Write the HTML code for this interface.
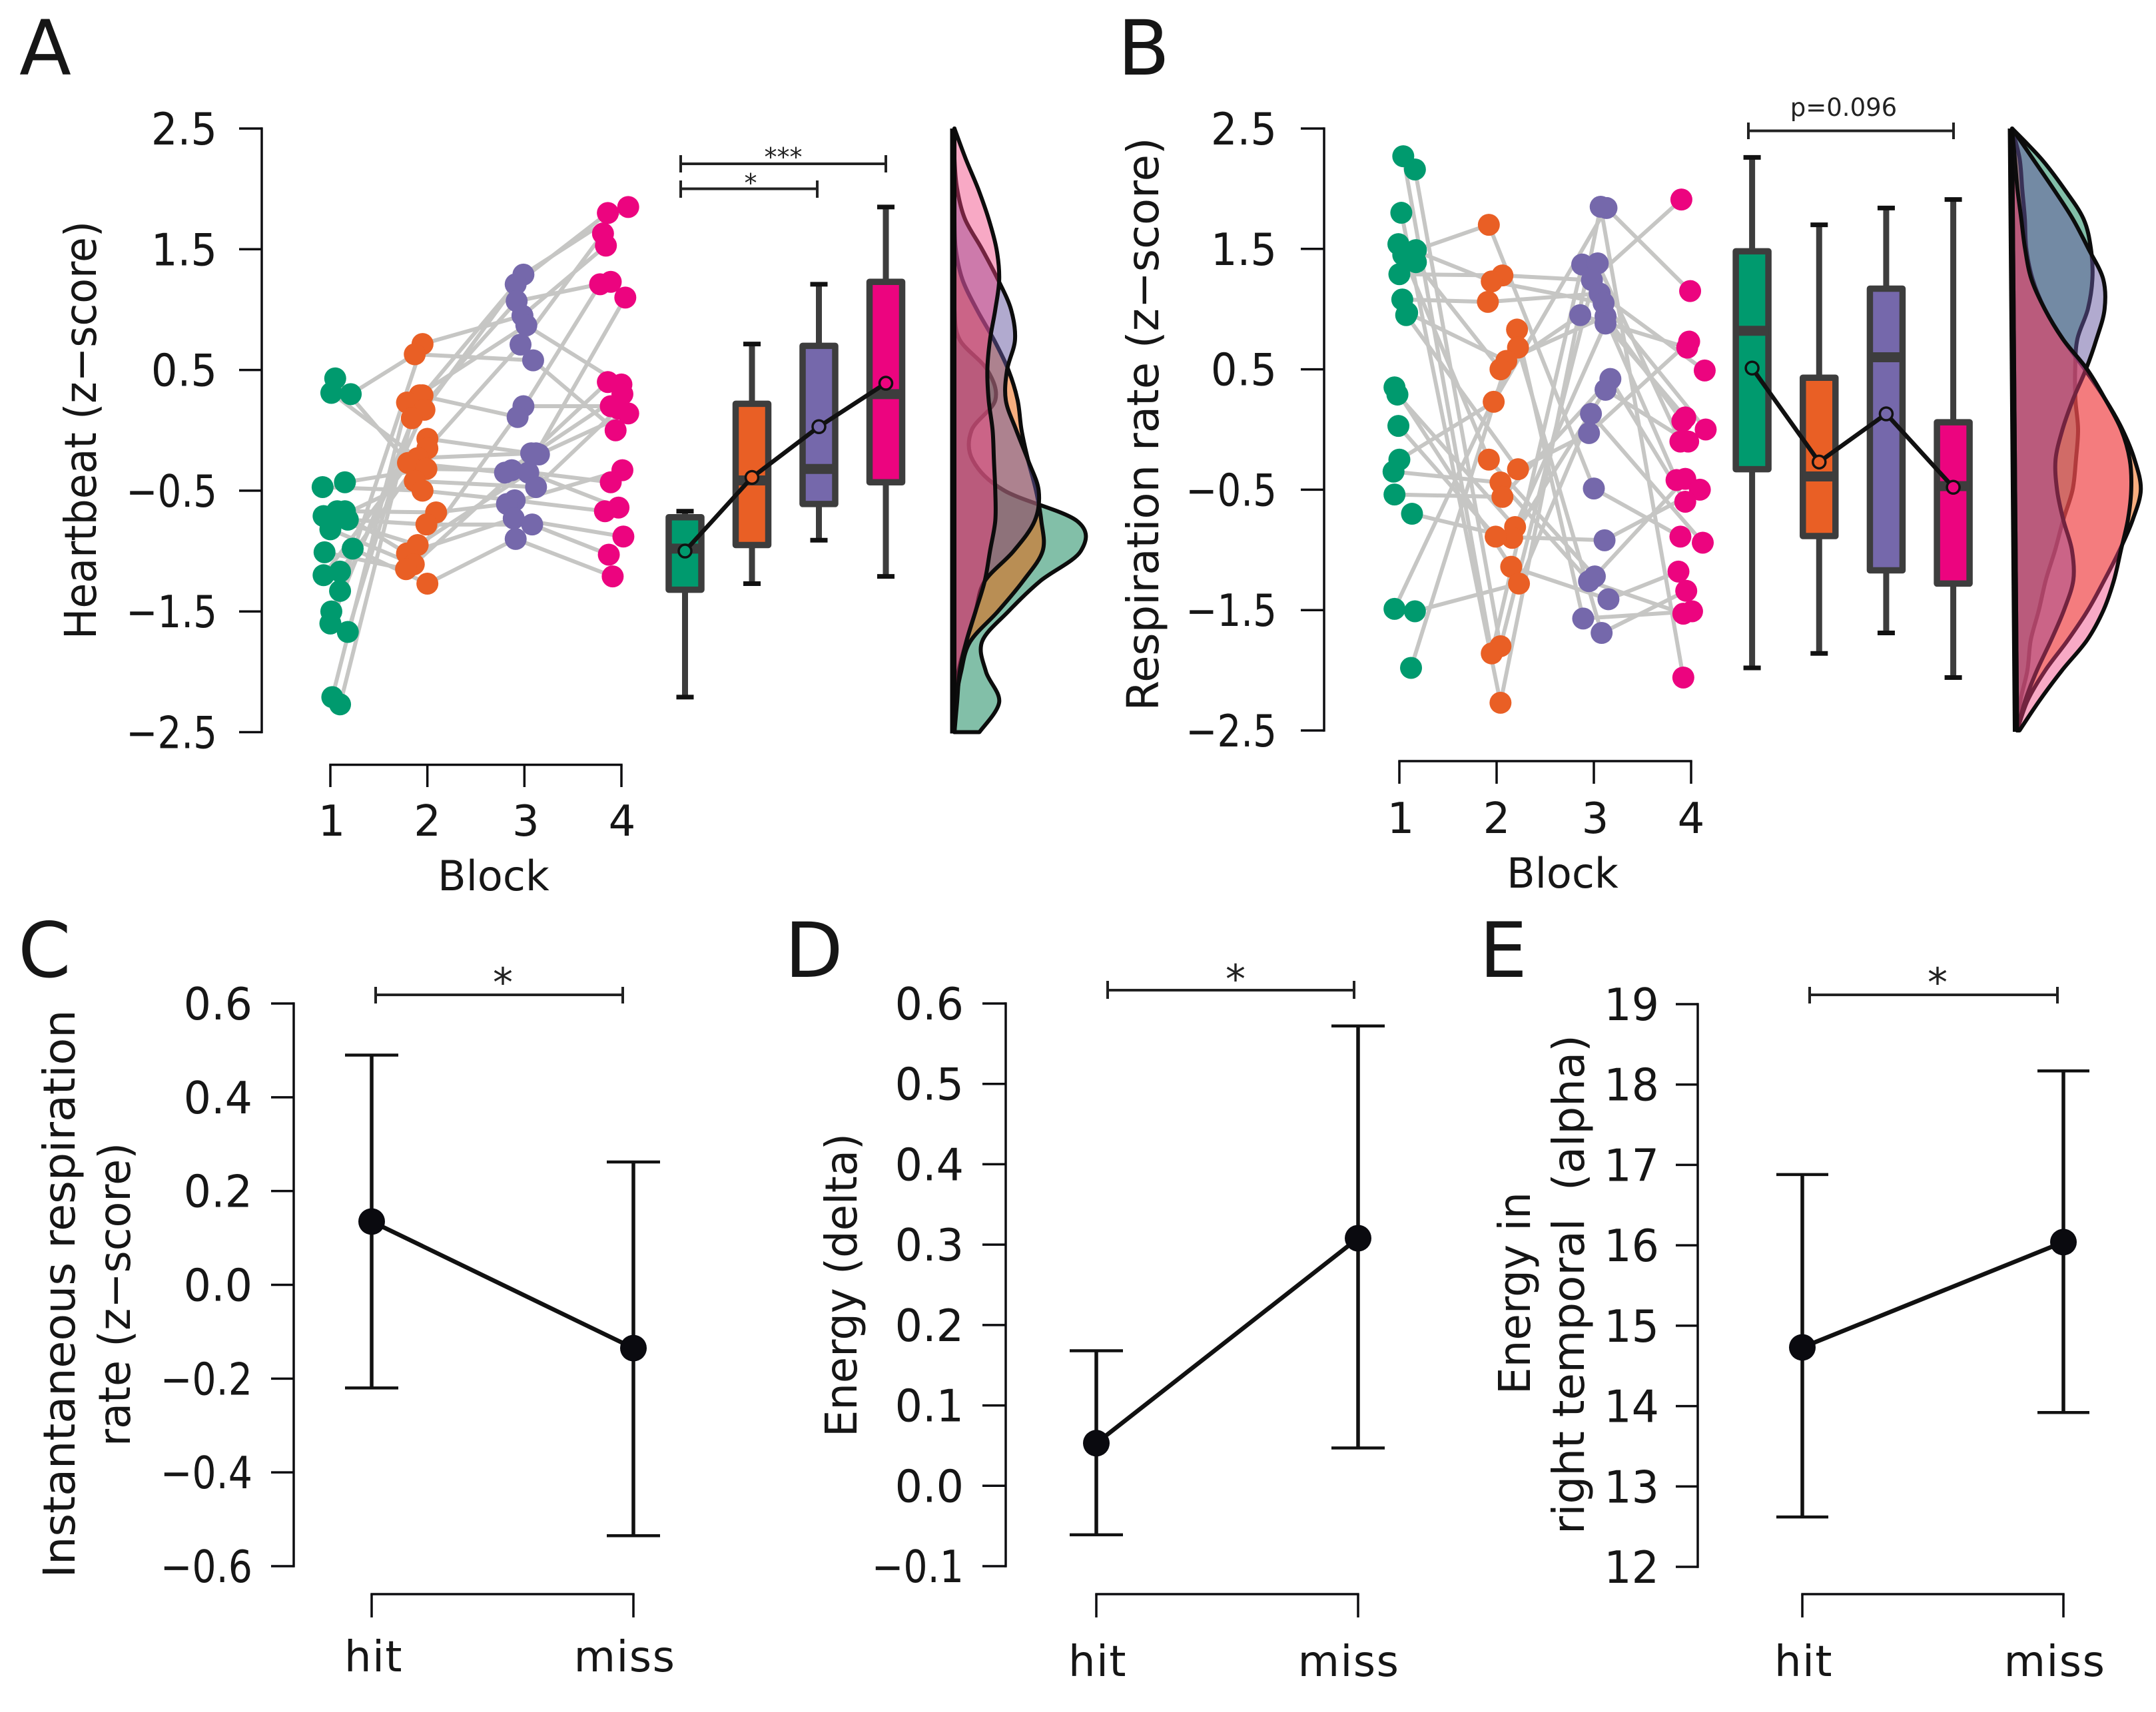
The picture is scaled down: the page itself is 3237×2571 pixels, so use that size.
<!DOCTYPE html>
<html lang="en">
<head>
<meta charset="utf-8">
<title>Heartbeat, respiration and energy by block and hit/miss</title>
<style>
html,body{margin:0;padding:0;background:#fff;}
svg{display:block;}
text{font-family:"DejaVu Sans","Liberation Sans",sans-serif;fill:#161616;}
.panel-letter{font-size:114px;}
.axis-title{font-size:66px;}
.block-title{font-size:62px;}
.star{font-size:38px;fill:#222;}
.bracket{fill:none;stroke:#222;stroke-width:4;}
</style>
</head>
<body>
<svg id="chart" xmlns="http://www.w3.org/2000/svg" width="3237" height="2571" viewBox="0 0 3237 2571">
  <rect x="0" y="0" width="3237" height="2571" fill="#ffffff"/>

  <text class="panel-letter" x="29" y="112">A</text>
  <text class="panel-letter" x="1678" y="112">B</text>
  <text class="panel-letter" x="27" y="1467">C</text>
  <text class="panel-letter" x="1178" y="1467">D</text>
  <text class="panel-letter" x="2221" y="1467">E</text>

  <text class="axis-title" transform="rotate(-90 144 646)" x="144" y="646" text-anchor="middle" textLength="628" lengthAdjust="spacingAndGlyphs">Heartbeat (z−score)</text>
  <text class="axis-title" transform="rotate(-90 1739 637)" x="1739" y="637" text-anchor="middle" textLength="861" lengthAdjust="spacingAndGlyphs">Respiration rate (z−score)</text>
  <text class="block-title" x="741" y="1337" text-anchor="middle">Block</text>
  <text class="block-title" x="2346" y="1333" text-anchor="middle">Block</text>

  <text class="axis-title" transform="rotate(-90 112 1943)" x="112" y="1943" text-anchor="middle" textLength="853" lengthAdjust="spacingAndGlyphs">Instantaneous respiration</text>
  <text class="axis-title" transform="rotate(-90 195 1944)" x="195" y="1944" text-anchor="middle" textLength="456" lengthAdjust="spacingAndGlyphs">rate (z−score)</text>
  <text class="axis-title" transform="rotate(-90 1286 1930)" x="1286" y="1930" text-anchor="middle" textLength="456" lengthAdjust="spacingAndGlyphs">Energy (delta)</text>
  <text class="axis-title" transform="rotate(-90 2297 1942)" x="2297" y="1942" text-anchor="middle" textLength="304" lengthAdjust="spacingAndGlyphs">Energy in</text>
  <text class="axis-title" transform="rotate(-90 2378 1929)" x="2378" y="1929" text-anchor="middle" textLength="750" lengthAdjust="spacingAndGlyphs" xml:space="preserve">right temporal  (alpha)</text>

  <path class="bracket" d="M1022 233V259M1022 246H1330M1330 233V259"/>
  <text class="star" x="1176" y="249" text-anchor="middle">***</text>
  <path class="bracket" d="M1022 271V297M1022 283.500H1227M1227 271V297"/>
  <text class="star" x="1127" y="288" text-anchor="middle">*</text>
  <path class="bracket" d="M2625 184V209M2625 196.500H2933M2933 184V209"/>
  <text x="2768" y="174" text-anchor="middle" font-size="37" style="fill:#222">p=0.096</text>

  <path class="bracket" d="M564 1482V1507M564 1494H935M935 1482V1507"/>
  <text class="star" x="755" y="1496" text-anchor="middle" style="font-size:60px">*</text>
  <path class="bracket" d="M1663 1473V1500M1663 1487H2033M2033 1473V1500"/>
  <text class="star" x="1855" y="1491" text-anchor="middle" style="font-size:60px">*</text>
  <path class="bracket" d="M2717 1482V1507M2717 1494H3089M3089 1482V1507"/>
  <text class="star" x="2909" y="1496" text-anchor="middle" style="font-size:60px">*</text>
</svg>

<script>
/* ---------- chart data ---------- */
const blockLabels = ['1','2','3','4'];
const zTicks = [2.5,1.5,0.5,-0.5,-1.5,-2.5];
const zTickLabels = ['2.5','1.5','0.5','−0.5','−1.5','−2.5'];

/* Panel A: heartbeat per block (z-score) and horizontal jitter in block units */
const hrBlock1 = [.43,.31,.30,-.47,-.43,-.71,-.67,-.67,-.74,-.73,-.82,-1.01,-.98,-1.20,-1.17,-1.33,-1.50,-1.60,-1.67,-2.21,-2.27];
const hrJitter1 = [.05,.01,.21,-.08,.15,-.07,.15,.07,.18,.05,0,-.06,.23,-.07,.10,.10,.01,0,.18,.02,.10];
const hrBlock2 = [.715,.63,.29,.29,.23,.17,.10,-.07,-.15,-.23,-.27,-.32,-.42,-.50,-.68,-.78,-.95,-1.02,-1.11,-1.15,-1.27];
const hrJitter2 = [-.05,-.13,-.05,-.08,-.21,-.03,-.16,0,0,-.10,-.20,-.01,-.13,-.05,.09,-.01,-.10,-.21,-.14,-.22,0];
const hrBlock3 = [1.29,1.21,1.07,.95,.87,.71,.58,.20,.11,-.19,-.20,-.19,-.33,-.35,-.35,-.47,-.58,-.61,-.73,-.78,-.90];
const hrJitter3 = [-.01,-.09,-.08,-.02,.02,-.04,.09,-.01,-.07,.12,.15,.07,-.13,-.20,.04,.12,-.10,-.18,-.11,.08,-.09];
const hrBlock4 = [1.80,1.85,1.63,1.53,1.21,1.23,1.10,.40,.38,.30,.20,.18,.14,0,-.33,-.43,-.64,-.67,-.88,-1.03,-1.21];
const hrJitter4 = [-.14,.07,-.19,-.16,-.22,-.11,.04,-.14,0,.01,-.11,-.03,.07,-.06,.01,-.11,-.03,-.17,.02,-.13,-.09];
/* each row: which point in blocks 1..4 belongs to one participant */
const hrSubjects = [[2,1,6,13],[1,9,11,7],[0,10,13,9],[4,11,12,15],[3,13,16,17],[5,16,14,16],[6,14,17,14],[7,17,18,18],[8,15,19,19],[9,12,15,11],[10,18,9,6],[11,19,7,10],[12,20,20,20],[13,7,10,12],[14,8,5,2],[15,0,3,3],[16,5,0,1],[17,2,1,0],[18,3,8,4],[19,4,4,8],[20,6,2,5]];

const hrWhiskerHigh = [-.67,.715,1.21,1.85];
const hrQ3 = [-.72,.22,.70,1.23];
const hrMedian = [-.98,-.415,-.32,.30];
const hrQ1 = [-1.32,-.95,-.61,-.43];
const hrWhiskerLow = [-2.21,-1.27,-.91,-1.21];
const hrMean = [-1.0,-.39,.03,.39];

const densityLevels = [2.5,2.25,2,1.75,1.5,1.25,1,.75,.5,.25,0,-.25,-.5,-.75,-1,-1.25,-1.5,-1.75,-2,-2.25,-2.5];
const hrDensity1 = [0,0,0,0,0,0,0,.04,.25,.31,.13,.14,.38,.93,.96,.65,.41,.21,.24,.34,.19];
const hrDensity2 = [0,0,0,0,.01,.06,.17,.30,.41,.48,.51,.56,.62,.66,.67,.52,.33,.12,.05,.01,0];
const hrDensity3 = [0,0,.02,.08,.21,.33,.43,.46,.40,.39,.47,.56,.64,.61,.45,.23,.16,.09,.03,.01,0];
const hrDensity4 = [0,.085,.18,.26,.32,.34,.31,.27,.25,.26,.29,.30,.31,.31,.27,.23,.16,.09,.04,.02,0];

/* Panel B: respiration per block */
const rrBlock1 = [2.27,2.16,1.80,1.54,1.49,1.45,1.39,1.29,1.08,.97,.95,.35,.29,.03,-.25,-.35,-.54,-.70,-1.49,-1.51,-1.98];
const rrJitter1 = [.04,.16,.02,-.01,.17,.04,.17,0,.03,.08,.07,-.05,-.02,-.01,0,-.06,-.05,.13,-.05,.16,.12];
const rrBlock2 = [1.70,1.28,1.23,1.06,.83,.68,.57,.50,.23,-.25,-.33,-.44,-.56,-.81,-.90,-.89,-1.14,-1.28,-1.80,-1.86,-2.27];
const rrJitter2 = [-.08,.06,-.05,-.09,.21,.22,.10,.04,-.03,-.08,.22,.04,.06,.19,.16,-.01,.15,.23,.04,-.05,.04];
const rrBlock3 = [1.85,1.84,1.37,1.38,1.24,1.13,1.05,.95,.94,.88,.42,.33,.13,-.03,-.49,-.92,-1.22,-1.26,-1.41,-1.57,-1.69];
const rrJitter3 = [.07,.13,-.12,.04,-.02,.06,.10,-.14,.12,.12,.17,.12,-.03,-.05,0,.11,.01,-.05,.15,-.11,.08];
const rrBlock4 = [1.91,1.15,.73,.68,.49,.10,.07,0,-.10,-.10,-.42,-.41,-.50,-.60,-.89,-.94,-1.18,-1.34,-1.51,-1.53,-2.06];
const rrJitter4 = [-.10,-.01,-.02,-.04,.14,-.06,-.09,.15,-.03,-.11,-.15,-.06,.09,-.06,-.11,.12,-.13,-.05,.01,-.08,-.08];
const rrSubjects = [[0,19,2,10],[1,18,3,9],[2,20,0,20],[4,0,14,14],[3,2,6,7],[5,9,16,11],[6,7,7,3],[7,1,4,0],[8,3,5,4],[9,6,8,6],[11,16,18,16],[12,13,9,5],[13,15,15,12],[14,8,1,1],[15,11,17,19],[16,12,10,13],[17,14,11,8],[18,5,20,17],[19,17,12,15],[20,4,19,18],[10,10,13,2]];

const rrWhiskerHigh = [2.26,1.70,1.84,1.91];
const rrQ3 = [1.48,.43,1.17,.06];
const rrMedian = [.82,-.39,.60,-.47];
const rrQ1 = [-.33,-.885,-1.17,-1.28];
const rrWhiskerLow = [-1.98,-1.86,-1.69,-2.06];
const rrMean = [.51,-.27,.13,-.48];

const rrDensity1 = [0,.24,.43,.59,.65,.66,.62,.53,.51,.51,.53,.51,.48,.40,.33,.25,.19,.12,.09,.03,0];
const rrDensity2 = [0,.06,.08,.10,.11,.16,.26,.41,.59,.76,.90,1.0,1.05,.98,.87,.74,.60,.43,.24,.09,0];
const rrDensity3 = [0,.17,.34,.50,.63,.75,.76,.69,.60,.49,.40,.34,.35,.40,.47,.48,.40,.29,.17,.07,0];
const rrDensity4 = [0,.02,.04,.07,.10,.15,.26,.41,.61,.76,.89,.96,.97,.94,.88,.82,.73,.59,.38,.19,.02];

/* Panels C, D, E: hit vs miss */
const conditionLabels = ['hit','miss'];
const cTicks = [.6,.4,.2,0,-.2,-.4,-.6];
const cTickLabels = ['0.6','0.4','0.2','0.0','−0.2','−0.4','−0.6'];
const cMean = [.135,-.135];
const cUpper = [.49,.262];
const cLower = [-.22,-.535];
const dTicks = [.6,.5,.4,.3,.2,.1,0,-.1];
const dTickLabels = ['0.6','0.5','0.4','0.3','0.2','0.1','0.0','−0.1'];
const dMean = [.053,.308];
const dUpper = [.168,.572];
const dLower = [-.061,.047];
const eTicks = [19,18,17,16,15,14,13,12];
const eTickLabels = ['19','18','17','16','15','14','13','12'];
const eMean = [14.73,16.04];
const eUpper = [16.88,18.17];
const eLower = [12.62,13.92];

const blockColors = ['#009A6E','#E95F25','#7568AB','#EC047F'];
const blockNames = ['block-1','block-2','block-3','block-4'];

/* ---------- helpers ---------- */
const NS = 'http://www.w3.org/2000/svg';
const root = document.getElementById('chart');
function linear(d0,d1,r0,r1){ return function(v){ return r0+(v-d0)*(r1-r0)/(d1-d0); }; }
function make(tag,parent,name){
  const n = document.createElementNS(NS,tag);
  
  
  parent.appendChild(n);
  return n;
}
function style(n,o){ for(const k in o){ n.setAttribute(k,o[k]); } return n; }
function group(name){ return make('g',root,name); }
const AX = '#0d0d10';

function yAxis(g,scale,ticks,labels,axisX,tickX,labelX,fontSize,dy,squeezePos,squeezeNeg){
  const top = scale(ticks[0]), bottom = scale(ticks[ticks.length-1]);
  style(make('line',g,'y-axis-line'),{x1:axisX,x2:axisX,y1:top-1.7,y2:bottom+1.7,stroke:AX,'stroke-width':3.5});
  ticks.forEach(function(t,i){
    style(make('line',g,'y-axis-tick'),{x1:tickX,x2:axisX,y1:scale(t),y2:scale(t),stroke:AX,'stroke-width':3.5});
    const tx = style(make('text',g,'y-tick-label'),{x:labelX,y:scale(t)+dy,'text-anchor':'end','font-size':fontSize});
    tx.textContent = labels[i];
    const squeeze = labels[i].charAt(0)==='−' ? squeezeNeg : squeezePos;
    tx.setAttribute('textLength', (tx.getComputedTextLength()*squeeze).toFixed(1));
    tx.setAttribute('lengthAdjust','spacingAndGlyphs');
  });
}
function xAxis(g,scale,cats,axisY,tickEnd,labelY,fontSize,labelShift,spacing){
  const a = scale(0), b = scale(cats.length-1);
  style(make('line',g,'x-axis-line'),{x1:a-1.7,x2:b+1.7,y1:axisY,y2:axisY,stroke:AX,'stroke-width':3.5});
  cats.forEach(function(c,i){
    style(make('line',g,'x-axis-tick'),{x1:scale(i),x2:scale(i),y1:axisY,y2:tickEnd,stroke:AX,'stroke-width':3.5});
    const tx = style(make('text',g,'x-tick-label'),{x:scale(i)+labelShift[i],y:labelY,'text-anchor':'middle','font-size':fontSize,'letter-spacing':spacing});
    tx.textContent = c;
  });
}
function spline(pts){
  let d = 'M'+pts[0][0].toFixed(1)+' '+pts[0][1].toFixed(1);
  for(let i=0;i<pts.length-1;i++){
    const p0=pts[Math.max(i-1,0)],p1=pts[i],p2=pts[i+1],p3=pts[Math.min(i+2,pts.length-1)];
    const c1=[p1[0]+(p2[0]-p0[0])/6,p1[1]+(p2[1]-p0[1])/6];
    const c2=[p2[0]-(p3[0]-p1[0])/6,p2[1]-(p3[1]-p1[1])/6];
    d+='C'+c1[0].toFixed(1)+' '+c1[1].toFixed(1)+' '+c2[0].toFixed(1)+' '+c2[1].toFixed(1)+' '+p2[0].toFixed(1)+' '+p2[1].toFixed(1);
  }
  return d;
}
function strip(g,x,y,values,jitters,subjects){
  const lines = make('g',g,'participant-lines');
  subjects.forEach(function(row){
    const pts = row.map(function(idx,b){ return (x(b+jitters[b][idx])).toFixed(1)+','+y(values[b][idx]).toFixed(1); });
    style(make('polyline',lines,'participant-line'),{points:pts.join(' '),fill:'none',stroke:'#C6C6C4','stroke-width':6,'stroke-linejoin':'round'});
  });
  values.forEach(function(vals,b){
    const dots = make('g',g,blockNames[b]+'-points');
    vals.forEach(function(v,i){
      style(make('circle',dots,blockNames[b]+'-point'),{cx:x(b+jitters[b][i]),cy:y(v),r:16.5,fill:blockColors[b]});
    });
  });
}
function boxes(g,x,y,hi,q3,med,q1,lo,mean){
  const half = 24.500, cap = 13;
  hi.forEach(function(_,i){
    const c = x(i), b = make('g',g,'box-'+blockNames[i]);
    style(make('line',b,'whisker'),{x1:c,x2:c,y1:y(hi[i]),y2:y(lo[i]),stroke:'#3D3D3D','stroke-width':9});
    style(make('line',b,'whisker-cap-upper'),{x1:c-cap,x2:c+cap,y1:y(hi[i]),y2:y(hi[i]),stroke:'#111','stroke-width':7});
    style(make('line',b,'whisker-cap-lower'),{x1:c-cap,x2:c+cap,y1:y(lo[i]),y2:y(lo[i]),stroke:'#111','stroke-width':7});
    style(make('rect',b,'box-body'),{x:c-half,width:half*2,y:y(q3[i]),height:y(q1[i])-y(q3[i]),fill:blockColors[i],stroke:'#3D3D3D','stroke-width':9.5,'stroke-linejoin':'round'});
    style(make('line',b,'box-median'),{x1:c-half,x2:c+half,y1:y(med[i]),y2:y(med[i]),stroke:'#3D3D3D','stroke-width':15});
  });
  const pts = mean.map(function(m,i){ return x(i)+','+y(m).toFixed(1); }).join(' ');
  style(make('polyline',g,'mean-line'),{points:pts,fill:'none',stroke:'#111','stroke-width':6.5});
  mean.forEach(function(m,i){
    style(make('circle',g,'mean-marker-'+blockNames[i]),{cx:x(i),cy:y(m),r:9.5,fill:blockColors[i],stroke:'#111','stroke-width':3.5});
  });
}
function violins(g,y,x0Top,x0Bottom,unit,series,fills,alphas){
  const top = y(densityLevels[0]), bottom = y(densityLevels[densityLevels.length-1]);
  function base(py){ return x0Top+(py-top)*(x0Bottom-x0Top)/(bottom-top); }
  series.forEach(function(dens,b){
    const pts = dens.map(function(d,i){ const py=y(densityLevels[i]); return [base(py)+d*unit,py]; });
    const dPath = spline(pts)+'L'+base(bottom).toFixed(1)+' '+bottom.toFixed(1)+'L'+base(top).toFixed(1)+' '+top.toFixed(1)+'Z';
    style(make('path',g,'density-'+blockNames[b]),{d:dPath,fill:fills[b],'fill-opacity':alphas[b],stroke:'#0c0c0c','stroke-width':6,'stroke-linejoin':'round'});
  });
  style(make('line',g,'density-baseline'),{x1:base(top)-2,x2:base(bottom)-2,y1:top,y2:bottom+2,stroke:'#0a0a0a','stroke-width':9});
}
function errorPanel(g,x,y,mean,upper,lower,capHalf){
  mean.forEach(function(m,i){
    const c = x(i);
    style(make('line',g,'error-bar-'+conditionLabels[i]),{x1:c,x2:c,y1:y(upper[i]),y2:y(lower[i]),stroke:'#111','stroke-width':5.5});
    style(make('line',g,'error-cap-upper-'+conditionLabels[i]),{x1:c-capHalf,x2:c+capHalf,y1:y(upper[i]),y2:y(upper[i]),stroke:'#111','stroke-width':4.5});
    style(make('line',g,'error-cap-lower-'+conditionLabels[i]),{x1:c-capHalf,x2:c+capHalf,y1:y(lower[i]),y2:y(lower[i]),stroke:'#111','stroke-width':4.5});
  });
  style(make('line',g,'mean-connector'),{x1:x(0),y1:y(mean[0]),x2:x(1),y2:y(mean[1]),stroke:'#111','stroke-width':6.5});
  mean.forEach(function(m,i){
    style(make('circle',g,'mean-point-'+conditionLabels[i]),{cx:x(i),cy:y(m),r:20,fill:'#0a0a0f'});
  });
}

const violinFills = ['#057F51','#EF5D00','#63559F','#F0407F'];
const violinAlphas = [0.5,0.5,0.5,0.45];

/* ---------- panel A ---------- */
const gA = group('panel-a');
const yA = linear(2.5,-2.5,193,1099.5);
const xA = linear(0,3,496,933);
yAxis(gA,yA,zTicks,zTickLabels,393,359,326,67,24,0.93,0.84);
xAxis(gA,xA,blockLabels,1148.5,1182,1255,64,[2,0,2,1],0);
strip(gA,xA,yA,[hrBlock1,hrBlock2,hrBlock3,hrBlock4],[hrJitter1,hrJitter2,hrJitter3,hrJitter4],hrSubjects);
boxes(gA,linear(0,3,1028.5,1330),yA,hrWhiskerHigh,hrQ3,hrMedian,hrQ1,hrWhiskerLow,hrMean);
violins(gA,yA,1433,1433,197.6,[hrDensity1,hrDensity2,hrDensity3,hrDensity4],violinFills,violinAlphas);

/* ---------- panel B ---------- */
const gB = group('panel-b');
const yB = linear(2.5,-2.5,193,1097);
const xB = linear(0,3,2101,2539);
yAxis(gB,yB,zTicks,zTickLabels,1988,1953,1917,67,24,0.93,0.84);
xAxis(gB,xB,blockLabels,1143,1177,1251,64,[2,0,2,0],0);
strip(gB,xB,yB,[rrBlock1,rrBlock2,rrBlock3,rrBlock4],[rrJitter1,rrJitter2,rrJitter3,rrJitter4],rrSubjects);
boxes(gB,linear(0,3,2630.6,2932.6),yB,rrWhiskerHigh,rrQ3,rrMedian,rrQ1,rrWhiskerLow,rrMean);
violins(gB,yB,3021,3028.5,179.7,[rrDensity1,rrDensity2,rrDensity3,rrDensity4],violinFills,violinAlphas);

/* ---------- panel C ---------- */
const gC = group('panel-c');
const yC = linear(.6,-.6,1507,2352);
const xC = linear(0,1,558,951);
yAxis(gC,yC,cTicks,cTickLabels,441,407,379,67,24,0.97,0.85);
xAxis(gC,xC,conditionLabels,2394,2429,2510,64,[3,-13],1.5);
errorPanel(gC,xC,yC,cMean,cUpper,cLower,40);

/* ---------- panel D ---------- */
const gD = group('panel-d');
const yD = linear(.6,-.1,1507,2352);
const xD = linear(0,1,1646,2039);
yAxis(gD,yD,dTicks,dTickLabels,1510,1475,1447,67,24,0.97,0.85);
xAxis(gD,xD,conditionLabels,2394,2429,2517,64,[2,-14],1.5);
errorPanel(gD,xD,yD,dMean,dUpper,dLower,40);

/* ---------- panel E ---------- */
const gE = group('panel-e');
const yE = linear(19,12,1508,2353);
const xE = linear(0,1,2706,3098);
yAxis(gE,yE,eTicks,eTickLabels,2549,2516,2491,67,24,0.97,0.85);
xAxis(gE,xE,conditionLabels,2394,2429,2517,64,[2,-13],1.5);
errorPanel(gE,xE,yE,eMean,eUpper,eLower,39);
</script>
</body>
</html>
